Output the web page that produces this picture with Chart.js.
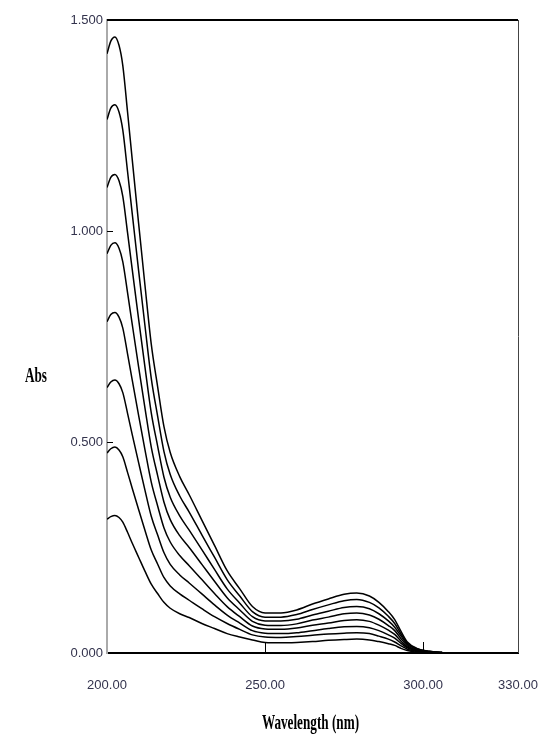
<!DOCTYPE html>
<html lang="en">
<head>
  <meta charset="UTF-8">
  <title>Abs vs Wavelength</title>
  <script src="https://cdn.jsdelivr.net/npm/chart.js"></script>
  <style>
    body { margin: 0; background: #fff; }
    #wrap { width: 550px; height: 746px; }
  </style>
</head>
<body>
  <div id="wrap">
    <canvas id="spettri" width="550" height="746"></canvas>
  </div>

  <script>
    // wavelengths (nm), shared by every curve
    const wavelengths = [200, 201.2, 202.5, 203.8, 205, 206.5, 208, 210, 212, 214, 216, 218, 220, 223, 226, 230, 234, 238, 242, 246, 250, 255, 260, 265, 270, 275, 279, 283, 286, 289, 291, 293, 295, 298, 302, 306];

    // absorbance, one array per concentration (lowest to highest)
    const abs1 = [0.317, 0.323, 0.326, 0.321, 0.310, 0.286, 0.260, 0.227, 0.194, 0.163, 0.141, 0.120, 0.106, 0.093, 0.084, 0.070, 0.058, 0.046, 0.038, 0.031, 0.025, 0.024, 0.025, 0.027, 0.030, 0.032, 0.033, 0.031, 0.027, 0.022, 0.018, 0.011, 0.006, 0.002, 0.001, 0.000];
    const abs2 = [0.474, 0.484, 0.488, 0.481, 0.465, 0.428, 0.390, 0.340, 0.291, 0.244, 0.211, 0.179, 0.159, 0.140, 0.125, 0.105, 0.086, 0.070, 0.056, 0.043, 0.038, 0.037, 0.039, 0.042, 0.045, 0.047, 0.048, 0.046, 0.040, 0.033, 0.026, 0.017, 0.009, 0.004, 0.001, 0.000];
    const abs3 = [0.629, 0.642, 0.647, 0.638, 0.617, 0.568, 0.517, 0.451, 0.386, 0.324, 0.280, 0.238, 0.210, 0.185, 0.166, 0.140, 0.114, 0.090, 0.071, 0.053, 0.047, 0.046, 0.048, 0.053, 0.058, 0.062, 0.063, 0.060, 0.053, 0.043, 0.035, 0.023, 0.012, 0.005, 0.002, 0.000];
    const abs4 = [0.785, 0.802, 0.807, 0.796, 0.770, 0.709, 0.646, 0.563, 0.482, 0.405, 0.349, 0.297, 0.263, 0.231, 0.207, 0.174, 0.141, 0.110, 0.086, 0.064, 0.057, 0.056, 0.059, 0.066, 0.071, 0.077, 0.079, 0.075, 0.066, 0.054, 0.044, 0.028, 0.014, 0.006, 0.002, 0.001];
    const abs5 = [0.946, 0.966, 0.972, 0.959, 0.927, 0.854, 0.778, 0.678, 0.581, 0.488, 0.421, 0.358, 0.316, 0.278, 0.250, 0.210, 0.170, 0.131, 0.102, 0.075, 0.066, 0.065, 0.069, 0.078, 0.085, 0.093, 0.095, 0.090, 0.080, 0.065, 0.053, 0.034, 0.017, 0.007, 0.003, 0.001];
    const abs6 = [1.103, 1.127, 1.134, 1.119, 1.082, 0.996, 0.908, 0.791, 0.678, 0.569, 0.491, 0.417, 0.369, 0.325, 0.291, 0.245, 0.198, 0.152, 0.118, 0.086, 0.076, 0.076, 0.080, 0.090, 0.099, 0.108, 0.110, 0.105, 0.093, 0.076, 0.061, 0.040, 0.020, 0.009, 0.003, 0.001];
    const abs7 = [1.264, 1.291, 1.299, 1.282, 1.239, 1.141, 1.040, 0.906, 0.776, 0.651, 0.562, 0.478, 0.423, 0.372, 0.334, 0.280, 0.227, 0.174, 0.135, 0.098, 0.085, 0.085, 0.091, 0.103, 0.114, 0.124, 0.127, 0.120, 0.107, 0.087, 0.070, 0.045, 0.023, 0.010, 0.004, 0.001];
    const abs8 = [1.420, 1.450, 1.460, 1.440, 1.392, 1.282, 1.168, 1.018, 0.872, 0.732, 0.632, 0.537, 0.475, 0.418, 0.375, 0.315, 0.255, 0.195, 0.152, 0.110, 0.095, 0.095, 0.102, 0.116, 0.128, 0.139, 0.142, 0.135, 0.120, 0.098, 0.079, 0.051, 0.026, 0.011, 0.004, 0.001];

    const xTicks = [200, 250, 300, 330];
    const yTicks = [0, 0.5, 1.0, 1.5];
    const xTitle = 'Wavelength (nm)';
    const yTitle = 'Abs';

    const serie = [abs1, abs2, abs3, abs4, abs5, abs6, abs7, abs8];

    const datasets = serie.map((valori, i) => ({
      label: 'c' + (i + 1),
      data: wavelengths.map((w, j) => ({ x: w, y: valori[j] })),
      borderColor: '#000',
      borderWidth: 1.5,
      pointRadius: 0,
      fill: false,
      cubicInterpolationMode: 'monotone'
    }));

    // frame, inner tick marks and the two (squeezed) axis titles
    const cornice = {
      id: 'cornice',
      afterDraw(chart) {
        const { ctx, chartArea: a, scales: { x, y } } = chart;
        ctx.save();
        ctx.strokeStyle = '#000';
        ctx.lineWidth = 2;
        ctx.beginPath();
        ctx.moveTo(a.left, a.top);
        ctx.lineTo(a.right, a.top);
        ctx.stroke();
        ctx.lineWidth = 1;
        ctx.strokeStyle = '#444';
        ctx.beginPath();
        ctx.moveTo(a.right + 0.5, a.top);
        ctx.lineTo(a.right + 0.5, a.bottom);
        ctx.stroke();

        ctx.strokeStyle = '#000';
        ctx.beginPath();
        [250, 300].forEach(v => {
          const px = Math.round(x.getPixelForValue(v)) + 0.5;
          ctx.moveTo(px, a.bottom);
          ctx.lineTo(px, a.bottom - 11);
        });
        [0.5, 1.0].forEach(v => {
          const py = Math.round(y.getPixelForValue(v)) + 0.5;
          ctx.moveTo(a.left, py);
          ctx.lineTo(a.left + 6, py);
        });
        ctx.stroke();

        ctx.fillStyle = '#000';
        ctx.font = 'bold 22px "Liberation Serif", serif';
        ctx.textAlign = 'center';
        ctx.textBaseline = 'middle';
        ctx.save();
        ctx.translate(36, 376);
        ctx.scale(0.6, 1);
        ctx.fillText(yTitle, 0, 0);
        ctx.restore();
        ctx.save();
        ctx.translate((a.left + a.right) / 2 - 2, 723);
        ctx.scale(0.6, 1);
        ctx.fillText(xTitle, 0, 0);
        ctx.restore();
        ctx.restore();
      }
    };

    const tickFont = { family: '"Liberation Sans", Arial, sans-serif', size: 13 };

    new Chart(document.getElementById('spettri').getContext('2d'), {
      type: 'line',
      data: { datasets },
      options: {
        responsive: false,
        animation: false,
        devicePixelRatio: 1,
        layout: { padding: { top: 20, right: 32, left: 0, bottom: 0 } },
        plugins: { legend: { display: false }, tooltip: { enabled: false } },
        scales: {
          x: {
            type: 'linear',
            min: 200,
            max: 330,
            afterBuildTicks: s => { s.ticks = xTicks.map(v => ({ value: v })); },
            afterFit: s => { s.height = 93; s.paddingLeft = 0; s.paddingRight = 0; },
            grid: { display: false, drawTicks: false },
            border: { display: true, color: '#000', width: 2 },
            ticks: {
              color: '#33334d',
              font: tickFont,
              padding: 25,
              maxRotation: 0,
              callback: v => v.toFixed(2)
            }
          },
          y: {
            min: 0,
            max: 1.5,
            afterBuildTicks: s => { s.ticks = yTicks.map(v => ({ value: v })); },
            afterFit: s => { s.width = 107; },
            grid: { display: false, drawTicks: false },
            border: { display: true, color: '#aaa', width: 2 },
            ticks: {
              color: '#33334d',
              font: tickFont,
              padding: 4,
              callback: v => v.toFixed(3)
            }
          }
        }
      },
      plugins: [cornice]
    });
  </script>
</body>
</html>
